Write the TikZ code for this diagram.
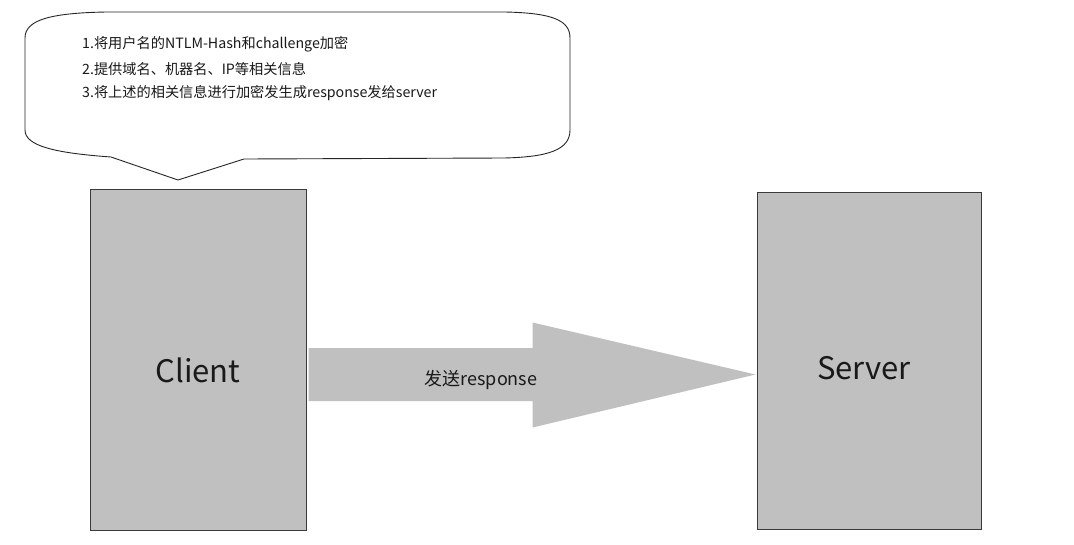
\documentclass[tikz,border=0pt]{standalone}
\usepackage{fontspec}
\setmainfont{Noto Sans CJK SC}
\usetikzlibrary{calc}
\definecolor{boxgray}{HTML}{C0C0C0}
\definecolor{edgegray}{HTML}{3A3A3A}
\begin{document}
\begin{tikzpicture}[x=1pt,y=-1pt,
  hostbox/.style={draw=edgegray,line width=1pt,fill=boxgray,rectangle,inner sep=0pt},
  bigtxt/.style={font=\fontsize{31}{36}\selectfont,text=black!90,inner sep=0pt},
  notetxt/.style={font=\fontsize{14.2}{17}\selectfont,text=black!90,inner sep=0pt,anchor=west},
  arrowtxt/.style={font=\fontsize{18}{21}\selectfont,text=black!90,inner sep=0pt},
  callout/.style={draw=black!85,line width=0.9pt,fill=white},
  bigarrow/.style={fill=boxgray}]
\useasboundingbox[fill=white] (0,0) rectangle (1074,544);
% hosts
\node[hostbox,minimum width=216pt,minimum height=341pt] (client) at (198,359.5) {};
\node[hostbox,minimum width=224pt,minimum height=337pt] (server) at (869,360.5) {};
\node[bigtxt] (clientlbl) at (198,370) {Client};
\node[bigtxt] (serverlbl) at (864,368) {Server};
% big arrow from client to server
\coordinate (a0) at ($(client.east)+(2,15)$);
\coordinate (tip) at ($(server.west)+(-1,14)$);
\fill[bigarrow] ($(a0)+(0,-26.5)$) -- ($(a0)+(224,-26.5)$) -- ($(a0)+(224,-52)$) -- (tip)
  -- ($(a0)+(224,53)$) -- ($(a0)+(224,26.5)$) -- ($(a0)+(0,26.5)$) -- cycle;
\node[arrowtxt] (sendlbl) at (481,380) {发送response};
% callout
\draw[callout] (106,12) -- (505,12) .. controls (552,13) and (570,20) .. (570,38)
  -- (570,130) .. controls (570,150) and (548,157) .. (504,158) -- (244,159) -- (178,180) -- (111,157)
  .. controls (55,153) and (25,146) .. (25,130) -- (25,38) .. controls (25,20) and (50,13) .. (106,12) -- cycle;
\node[notetxt] (line1) at (82,44) {1.将用户名的NTLM-Hash和challenge加密};
\node[notetxt] (line2) at (82,69) {2.提供域名、机器名、IP等相关信息};
\node[notetxt] (line3) at (82,93) {3.将上述的相关信息进行加密发生成response发给server};
\end{tikzpicture}
\end{document}
